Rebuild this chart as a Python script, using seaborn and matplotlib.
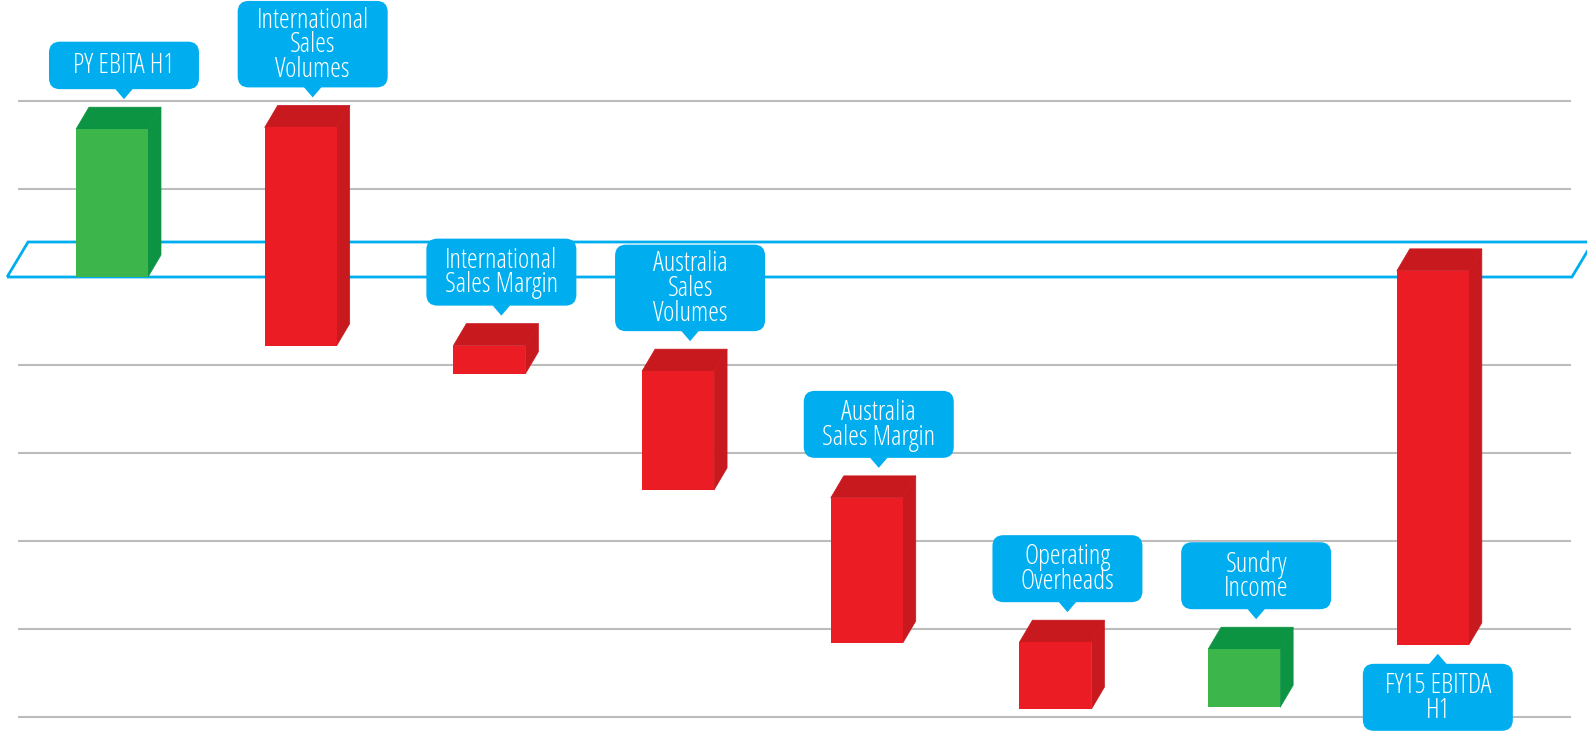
import numpy as np
import matplotlib
matplotlib.use("Agg")
import matplotlib.pyplot as plt
import seaborn as sns
import pandas as pd
from matplotlib.patches import Polygon, FancyBboxPatch
from matplotlib.transforms import IdentityTransform

# ---------------- data ----------------
categories = ["PY EBITA H1", "International\nSales\nVolumes", "International\nSales Margin",
              "Australia\nSales\nVolumes", "Australia\nSales Margin", "Operating\nOverheads",
              "Sundry\nIncome", "FY15 EBITDA\nH1"]
bar_top = [1.68, 1.70, -0.78, -1.07, -2.51, -4.15, -4.23, 0.07]
bar_bottom = [0.0, -0.78, -1.10, -2.42, -4.16, -4.91, -4.89, -4.18]
kind = ["up", "down", "down", "down", "down", "down", "up", "down"]
label_side = ["above"] * 7 + ["below"]
grid_values = [2, 1, -1, -2, -3, -4, -5]

# ---------------- style ----------------
sns.set_theme(style="white")
plt.rcParams['font.family'] = ['Open Sans', 'DejaVu Sans']

front_col = {"up": "#3CB54A", "down": "#EC1C24"}
dark_col = {"up": "#0D9443", "down": "#C8191F"}
cyan = "#00AEEF"

W, H, DPI = 1587, 735, 100
fig = plt.figure(figsize=(W / DPI, H / DPI), dpi=DPI)
ax = fig.add_axes([0, 0, 1, 1])

pos = np.arange(len(categories))
df = pd.DataFrame({"pos": pos, "height": np.array(bar_top) - np.array(bar_bottom),
                   "kind": kind})
sns.barplot(data=df, x="pos", y="height", hue="kind", palette=front_col, width=0.3816,
            dodge=False, native_scale=True, legend=False, errorbar=None, saturation=1,
            ax=ax, zorder=5, linewidth=0)

ax.set_xlim(-0.5935, 7.817)
ax.set_ylim(-5.205, 3.148)
ax.axis("off")

# move the front faces to their floating bottoms
for p in ax.patches:
    i = int(round(p.get_x() + p.get_width() / 2))
    p.set_y(bar_bottom[i])
    p.set_height(bar_top[i] - bar_bottom[i])

pxx = 188.7  # pixels per x unit
pxy = 88.0   # pixels per y unit
dx, dy = 13 / pxx, 22 / pxy
hw = 0.3816 / 2

# grid lines
ax.hlines(grid_values, (18 - 112) / pxx, (1571 - 112) / pxx, color="#BDBDBD", lw=1.5, zorder=1)

# zero plane
xl, xr = -0.556, 7.737
pdx, pdy = 21 / pxx, 35 / pxy
plane = Polygon([(xl, 0), (xr, 0), (xr + pdx, pdy), (xl + pdx, pdy)], closed=True,
                facecolor="none", edgecolor=cyan, lw=2.0, joinstyle="miter", zorder=2)
ax.add_patch(plane)

# 3D faces
for i in range(len(categories)):
    x0, x1 = pos[i] - hw, pos[i] + hw
    t, b = bar_top[i], bar_bottom[i]
    c = dark_col[kind[i]]
    top = Polygon([(x0, t), (x0 + dx, t + dy), (x1 + dx, t + dy), (x1, t)], closed=True,
                  facecolor=c, edgecolor=c, lw=0.5, zorder=4)
    side = Polygon([(x1, t), (x1 + dx, t + dy), (x1 + dx, b + dy), (x1, b)], closed=True,
                   facecolor=c, edgecolor=c, lw=0.5, zorder=4)
    ax.add_patch(top)
    ax.add_patch(side)

# callouts
fig.canvas.draw()
idt = IdentityTransform()
box_w = 150
for i, lab in enumerate(categories):
    n = lab.count("\n") + 1
    bh = 28 + 19.5 * n
    if label_side[i] == "above":
        tx, ty = ax.transData.transform((pos[i], bar_top[i] + dy))
        tx += 12
        ty += 8
        tri = [(tx, ty), (tx - 9, ty + 10.5), (tx + 9, ty + 10.5)]
        by = ty + 10
    else:
        tx, ty = ax.transData.transform((pos[i], bar_bottom[i]))
        tx += 5
        ty -= 9
        tri = [(tx, ty), (tx - 9, ty - 10.5), (tx + 9, ty - 10.5)]
        by = ty - 10 - bh
    box = FancyBboxPatch((tx - box_w / 2, by), box_w, bh,
                         boxstyle="round,pad=0,rounding_size=11", transform=idt,
                         facecolor=cyan, edgecolor="none", zorder=8)
    ax.add_patch(box)
    ax.add_patch(Polygon(tri, closed=True, transform=idt, facecolor=cyan,
                         edgecolor="none", zorder=8))
    ax.text(tx, by + bh / 2 - 1, lab, transform=idt, ha="center", va="center",
            color="white", fontsize=19.5, fontweight=300, fontstretch="condensed",
            linespacing=0.84, zorder=9)

fig.savefig("out.png", dpi=DPI, facecolor="white")
